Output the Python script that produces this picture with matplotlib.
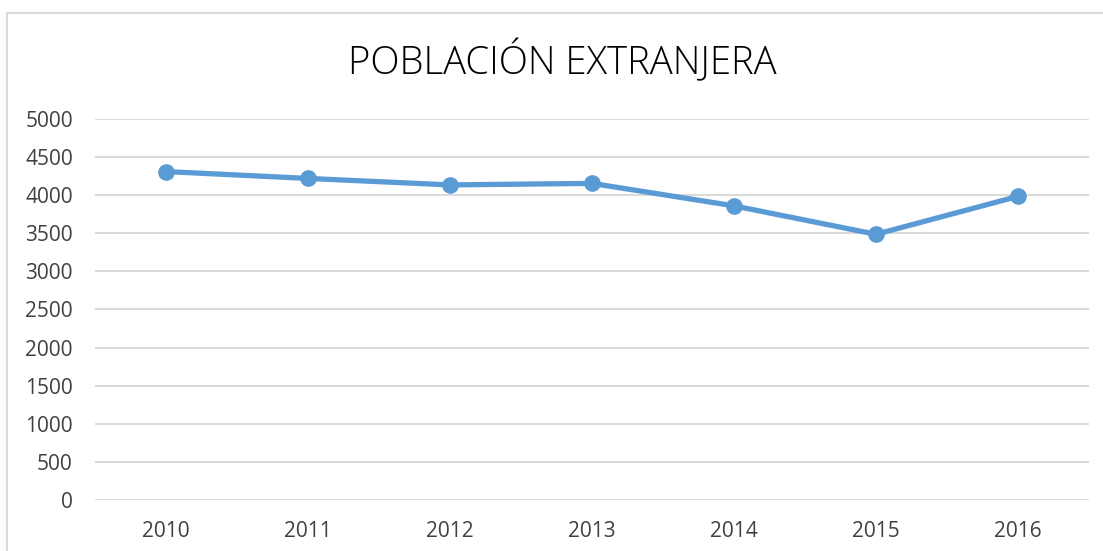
import matplotlib.pyplot as plt
from matplotlib.patches import Rectangle

years = ['2010', '2011', '2012', '2013', '2014', '2015', '2016']
poblacion = [4310, 4220, 4135, 4155, 3860, 3487, 3985]
yticks = [0, 500, 1000, 1500, 2000, 2500, 3000, 3500, 4000, 4500, 5000]

plt.rcParams['font.family'] = ['Open Sans', 'DejaVu Sans']

fig = plt.figure(figsize=(11.03, 5.51), dpi=100)
ax = fig.add_axes([95 / 1103, 1 - 500 / 551, 994 / 1103, 381 / 551])

# chart border (cut off at right and bottom like the reference)
fig.patches.append(Rectangle((7 / 1103, -0.1), 1.2, 1 - 13 / 551 + 0.1,
                             transform=fig.transFigure, fill=False,
                             edgecolor='#D9D9D9', linewidth=1.5))

x = range(len(years))
ax.plot(x, poblacion, color='#5B9BD5', linewidth=3.8, marker='o',
        markersize=11, zorder=3)

ax.set_xlim(-0.5, len(years) - 0.5)
ax.set_ylim(0, 5000)
ax.set_yticks(yticks)
ax.set_xticks(list(x))
ax.set_xticklabels(years)
ax.grid(axis='y', color='#D9D9D9', linewidth=1.4)
ax.set_axisbelow(True)
for s in ax.spines.values():
    s.set_visible(False)
ax.tick_params(length=0, labelsize=15, colors='#404040', pad=15)
ax.tick_params(axis='y', pad=16)

fig.text(562 / 1103, 1 - 62 / 551, 'POBLACIÓN EXTRANJERA', ha='center',
         va='center', fontsize=27.5, fontweight='light')

fig.savefig('out.png', dpi=100)
